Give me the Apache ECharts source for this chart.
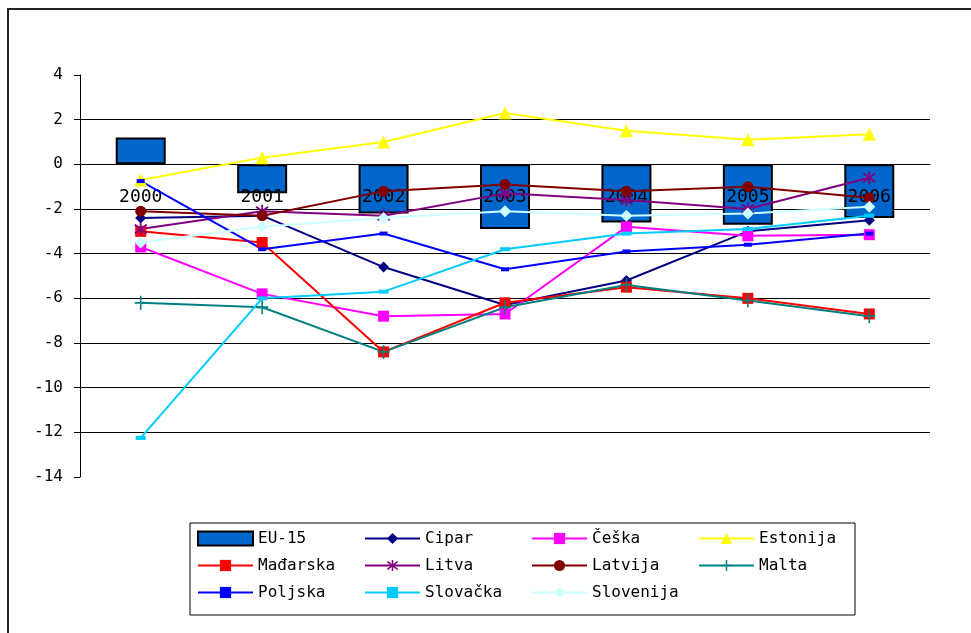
<!DOCTYPE html>
<html>
<head>
<meta charset="utf-8">
<script src="https://cdn.jsdelivr.net/npm/echarts@6/dist/echarts.min.js"></script>
<style>
  html, body { margin: 0; padding: 0; background: #fff; }
  #chart { width: 971px; height: 633px; }
</style>
</head>
<body>
<div id="chart"></div>
<script>
// Years on the category axis
const years = ['2000', '2001', '2002', '2003', '2004', '2005', '2006'];
const yTicks = { min: -14, max: 4, step: 2 };

// EU-15 average (bars)
const eu15 = [1.2, -1.3, -2.2, -2.9, -2.6, -2.7, -2.4];

// Country series (lines)
const cipar     = [-2.4, -2.3, -4.6, -6.3, -5.2, -3.0, -2.5];
const ceska     = [-3.7, -5.8, -6.8, -6.7, -2.8, -3.2, -3.15];
const estonija  = [-0.7, 0.3, 1.0, 2.3, 1.5, 1.1, 1.35];
const madarska  = [-3.0, -3.5, -8.4, -6.2, -5.5, -6.0, -6.7];
const litva     = [-2.9, -2.1, -2.3, -1.3, -1.6, -2.0, -0.6];
const latvija   = [-2.1, -2.3, -1.2, -0.9, -1.2, -1.0, -1.5];
const malta     = [-6.2, -6.4, -8.4, -6.4, -5.4, -6.1, -6.8];
const poljska   = [-0.75, -3.8, -3.1, -4.7, -3.9, -3.6, -3.1];
const slovacka  = [-12.25, -6.0, -5.7, -3.8, -3.1, -2.9, -2.3];
const slovenija = [-3.5, -2.8, -2.4, -2.1, -2.3, -2.2, -1.9];

const ASTERISK = 'path://M8.8,0H11.2V20H8.8Z M1.3,4.3L2.7,1.9L18.7,15.7L17.3,18.1Z M17.3,1.9L18.7,4.3L2.7,18.1L1.3,15.7Z';
const PLUS = 'path://M8.7,0H11.3V20H8.7Z M0,8.7H20V11.3H0Z';

function line(name, data, color, symbol, size) {
  return {
    name, type: 'line', data,
    symbol, symbolSize: size,
    lineStyle: { color, width: 2 },
    itemStyle: { color, borderWidth: 0 },
    emphasis: { disabled: true },
    z: 3,
    animation: false
  };
}

const seriesNames = ['EU-15', 'Cipar', 'Češka', 'Estonija', 'Mađarska', 'Litva',
  'Latvija', 'Malta', 'Poljska', 'Slovačka', 'Slovenija'];

const chart = echarts.init(document.getElementById('chart'));
chart.setOption({
  animation: false,
  backgroundColor: '#fff',
  graphic: [{
    type: 'rect',
    shape: { x: 8, y: 9, width: 1000, height: 700 },
    style: { fill: 'none', stroke: '#222', lineWidth: 2 },
    silent: true
  }],
  grid: { left: 80, right: 41, top: 75, bottom: 156, containLabel: false },
  xAxis: {
    type: 'category',
    data: years,
    boundaryGap: true,
    position: 'bottom',
    z: 2,
    axisLine: { onZero: false, lineStyle: { color: '#000', width: 1 } },
    axisTick: { inside: true, length: 6, lineStyle: { color: '#000' } },
    axisLabel: {
      margin: 24, color: '#000',
      fontFamily: 'DejaVu Sans Mono', fontSize: 18
    },
    splitLine: { show: false }
  },
  yAxis: {
    type: 'value',
    min: yTicks.min, max: yTicks.max, interval: yTicks.step,
    axisLine: { show: true, lineStyle: { color: '#000', width: 1 } },
    axisTick: { show: true, length: 6, lineStyle: { color: '#000' } },
    axisLabel: {
      margin: 17, color: '#000',
      fontFamily: 'DejaVu Sans Mono', fontSize: 16
    },
    splitLine: {
      show: true, showMinLine: false, showMaxLine: false,
      lineStyle: { color: '#000', width: 1 }
    }
  },
  legend: {
    left: 190, top: 523,
    width: 660,
    orient: 'horizontal',
    padding: [7, 0, 14, 7],
    itemWidth: 55, itemHeight: 14, itemGap: 10,
    borderColor: '#000', borderWidth: 1,
    textStyle: {
      color: '#000', fontFamily: 'DejaVu Sans Mono', fontSize: 16,
      width: 96, lineHeight: 17
    },
    data: seriesNames.map((n, i) => (i === 0 ? { name: n, icon: 'rect' } : { name: n })),
    selectedMode: false
  },
  series: [
    {
      name: 'EU-15', type: 'bar', data: eu15, barWidth: 50,
      itemStyle: { color: '#0066CC', borderColor: '#000', borderWidth: 2 },
      emphasis: { disabled: true }, z: 1
    },
    line('Cipar', cipar, '#000080', 'diamond', 11),
    line('Češka', ceska, '#FF00FF', 'rect', 11),
    line('Estonija', estonija, '#FFFF00', 'triangle', 13),
    line('Mađarska', madarska, '#FF0000', 'rect', 11),
    line('Litva', litva, '#800080', ASTERISK, 13),
    line('Latvija', latvija, '#800000', 'circle', 11),
    line('Malta', malta, '#008080', PLUS, [12, 14]),
    line('Poljska', poljska, '#0000FF', 'rect', [8, 4]),
    line('Slovačka', slovacka, '#00CCFF', 'rect', [10, 4]),
    line('Slovenija', slovenija, '#CCFFFF', 'diamond', 12)
  ]
});

// Move the category axis (line, ticks and year labels) up to the zero line
const zeroY = chart.convertToPixel({ yAxisIndex: 0 }, 0);
const floorY = chart.convertToPixel({ yAxisIndex: 0 }, yTicks.min);
chart.setOption({ xAxis: { offset: -(floorY - zeroY) } });
</script>
</body>
</html>
